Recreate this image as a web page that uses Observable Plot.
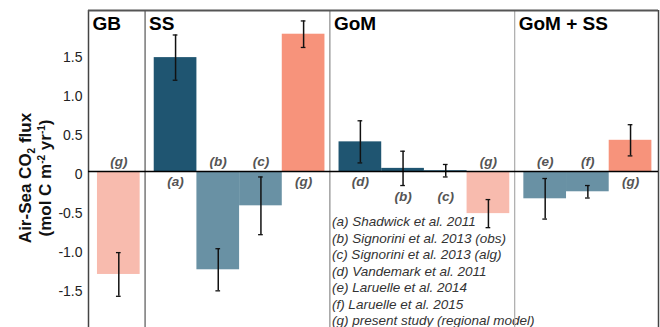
<!DOCTYPE html>
<html><head><meta charset="utf-8">
<script src="https://cdn.jsdelivr.net/npm/d3@7"></script>
<script src="https://cdn.jsdelivr.net/npm/@observablehq/plot@0.6"></script>
<style>body{margin:0;background:#fff} #chart svg{display:block}</style>
</head><body><div id="chart"></div>
<script>
// ---- data ----
const panels = ["GB", "SS", "GoM", "GoM + SS"];
const barPanel = ["GB", "SS", "SS", "SS", "SS", "GoM", "GoM", "GoM", "GoM", "GoM + SS", "GoM + SS", "GoM + SS"];
const barRef = ["g", "a", "b", "c", "g", "d", "b", "c", "g", "e", "f", "g"];
const barSource = ["model", "obs", "obs", "obs", "model", "obs", "obs", "obs", "model", "obs", "obs", "model"];
const fluxValues = [-1.32, 1.46, -1.26, -0.44, 1.76, 0.38, 0.04, 0.01, -0.54, -0.35, -0.26, 0.40];
const fluxErrors = [0.28, 0.29, 0.27, 0.37, 0.17, 0.27, 0.22, 0.08, 0.18, 0.26, 0.08, 0.20];
const yTicks = [-1.5, -1.0, -0.5, 0, 0.5, 1.0, 1.5];
const legendLines = [
  "(a) Shadwick et al. 2011",
  "(b) Signorini et al. 2013 (obs)",
  "(c) Signorini et al. 2013 (alg)",
  "(d) Vandemark et al. 2011",
  "(e) Laruelle et al. 2014",
  "(f) Laruelle et al. 2015",
  "(g) present study (regional model)"
];

// ---- layout (bar slots in bar-width units) ----
const padL = 0.21, gap = 0.33, padR = 0.155;
const xMax = padL + barRef.length + (panels.length - 1) * gap + padR;
const rows = fluxValues.map((v, i) => {
  const p = panels.indexOf(barPanel[i]);
  const x1 = padL + i + p * gap;
  const e = fluxErrors[i];
  const lab = v < 0 ? "above" : (v - e < 0 ? "lower" : "below");
  return {x1, x2: x1 + 1, xc: x1 + 0.5, v, lo: v - e, hi: v + e,
          ref: "(" + barRef[i] + ")", key: barSource[i] + (v >= 0 ? "+" : "-"), lab};
});
const sepRows = panels.slice(1).map((name, k) => {
  const firstIdx = barPanel.indexOf(name);
  return {x: padL + firstIdx + k * gap + gap * 0.35, name};
});
const sepColors = ["#555", "#8a8a8a", "#aaa"];
const panelStarts = panels.map((name, k) => k === 0 ? 0 : sepRows[k - 1].x);

const font = "'Liberation Sans', Arial, Helvetica, sans-serif";
const labStyle = {fill: "#555", fontSize: 13.5, fontWeight: "bold", fontStyle: "italic"};

const chart = Plot.plot({
  width: 660, height: 327,
  marginLeft: 88, marginRight: 2, marginTop: 10, marginBottom: 0,
  style: {fontFamily: font, background: "#fff", color: "#222"},
  x: {domain: [0, xMax], axis: null},
  y: {domain: [-2.0, 2.064], axis: null},
  color: {domain: ["obs+", "obs-", "model+", "model-"],
          range: ["#1f5571", "#6991a4", "#f7937b", "#f8bbae"]},
  marks: [
    Plot.rectY(rows, {x1: "x1", x2: "x2", y1: 0, y2: "v", fill: "key"}),
    Plot.ruleX(rows, {x: "xc", y1: "lo", y2: "hi", stroke: "#111", strokeWidth: 1.5}),
    Plot.ruleY(rows, {y: "lo", x1: d => d.xc - 0.055, x2: d => d.xc + 0.055, stroke: "#111", strokeWidth: 1.3}),
    Plot.ruleY(rows, {y: "hi", x1: d => d.xc - 0.055, x2: d => d.xc + 0.055, stroke: "#111", strokeWidth: 1.3}),
    Plot.text([legendLines.join("\n")], {x: sepRows[1].x, y: 0, text: d => d, textAnchor: "start",
      lineAnchor: "top", dx: 2, dy: 43, lineHeight: 1.22, fill: "#333", fontSize: 13.5, fontStyle: "italic"}),
    Plot.ruleX(sepRows, {x: "x", stroke: (d, i) => sepColors[i], strokeWidth: 1.2}),
    Plot.ruleX([0, xMax], {stroke: "#444", strokeWidth: 1.5}),
    Plot.ruleY([2.064], {stroke: "#555", strokeWidth: 2}),
    Plot.ruleY([0], {stroke: "#000", strokeWidth: 1.5}),
    Plot.axisY({ticks: yTicks, tickFormat: d => d === 0 ? "0" : d.toFixed(1), tickSize: 0,
                tickPadding: 6, fontSize: 14, dy: 3, label: null}),
    Plot.text(rows.filter(d => d.lab === "above"), {x: "xc", y: 0, text: "ref", dy: -10, ...labStyle}),
    Plot.text(rows.filter(d => d.lab === "below"), {x: "xc", y: 0, text: "ref", dy: 10, ...labStyle}),
    Plot.text(rows.filter(d => d.lab === "lower"), {x: "xc", y: 0, text: "ref", dy: 25, ...labStyle}),
    Plot.text(panels, {x: (d, i) => panelStarts[i], y: 2.064, text: d => d, textAnchor: "start",
      lineAnchor: "top", dx: 4, dy: 6, fill: "#000", fontSize: 19, fontWeight: "bold"})
  ]
});

// y-axis title with sub/superscripts
const svg = d3.select(chart);
const cy = 178;
const t1 = svg.append("text").attr("transform", `translate(31,${cy}) rotate(-90)`)
  .attr("text-anchor", "middle").attr("font-size", 17).attr("font-weight", "bold")
  .attr("font-family", font).attr("fill", "#111");
t1.append("tspan").text("Air-Sea CO");
t1.append("tspan").text("2").attr("font-size", 10).attr("dy", 4);
t1.append("tspan").text(" flux").attr("dy", -4);
const t2 = svg.append("text").attr("transform", `translate(51,${cy}) rotate(-90)`)
  .attr("text-anchor", "middle").attr("font-size", 17).attr("font-weight", "bold")
  .attr("font-family", font).attr("fill", "#111");
t2.append("tspan").text("(mol C m");
t2.append("tspan").text("-2").attr("font-size", 10).attr("dy", -6);
t2.append("tspan").text(" yr").attr("dy", 6);
t2.append("tspan").text("-1").attr("font-size", 10).attr("dy", -6);
t2.append("tspan").text(")").attr("dy", 6);

document.getElementById("chart").appendChild(chart);
</script>
</body></html>
